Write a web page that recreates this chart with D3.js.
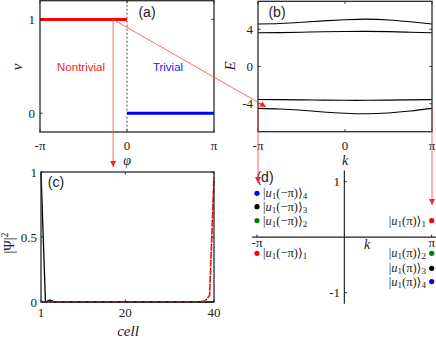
<!DOCTYPE html>
<html><head><meta charset="utf-8">
<script src="https://cdn.jsdelivr.net/npm/d3@7"></script>
<style>body{margin:0;background:#fff}svg{display:block}</style>
</head><body>
<script>
const PI = Math.PI;
// ---------- (a) winding number vs phase ----------
const phaseTicks = [-PI, 0, PI];
const phaseTickLabels = ["-π", "0", "π"];
const windingTicks = [0, 1];
const nontrivialPhase = [-PI, 0];
const nontrivialValue = [1, 1];
const trivialPhase = [0, PI];
const trivialValue = [0, 0];
// ---------- (b) bands ----------
const kSamples = [-PI, -3*PI/4, -PI/2, -PI/4, 0, PI/4, PI/2, 3*PI/4, PI];
const band4 = [4.57, 4.62, 4.75, 4.90, 5.02, 5.09, 5.00, 4.80, 4.57];
const band3 = [3.62, 3.64, 3.68, 3.73, 3.76, 3.77, 3.74, 3.68, 3.62];
const band2 = [-3.55, -3.56, -3.58, -3.61, -3.63, -3.63, -3.61, -3.58, -3.55];
const band1 = [-4.50, -4.56, -4.70, -4.88, -5.02, -5.08, -4.99, -4.78, -4.50];
const energyTicks = [-4, 0, 4];
// ---------- (c) edge state profiles ----------
const cellTicks = [1, 20, 40];
const psiTicks = [0, 0.5, 1];
const cells = [1,2,3,4,5,6,7,8,9,10,11,12,13,14,15,16,17,18,19,20,21,22,23,24,25,26,27,28,29,30,31,32,33,34,35,36,37,38,39,40];
const leftEdgeState = [1.0,0.0,0.015,0.002,0,0,0,0,0,0,0,0,0,0,0,0,0,0,0,0,0,0,0,0,0,0,0,0,0,0,0,0,0,0,0,0,0,0,0,0];
const rightEdgeState = [0,0,0,0,0,0,0,0,0,0,0,0,0,0,0,0,0,0,0,0,0,0,0,0,0,0,0,0,0,0,0,0,0,0,0,0,0.002,0.008,0.05,0.96];
// ---------- (d) states at k = ±π ----------
const stateIndex = ["1", "2", "3", "4"];
const stateColors = ["#ff0000", "#008000", "#000000", "#0000ff"];
const leftStateY = [-0.29, 0.30, 0.55, 0.79];
const rightStateY = [0.30, -0.29, -0.56, -0.80];
const dTicksX = [-PI, PI];
const dTicksXLabels = ["-π", "π"];
const dTicksY = [-1, 1];
const dTicksYLabels = ["-1", "1"];

const W = 436, H = 349;
const svg = d3.select("body").append("svg").attr("width", W).attr("height", H);
const SERIF = "'Liberation Serif','DejaVu Serif',serif";
const SANS = "'Liberation Sans',Arial,sans-serif";
const frameColor = "#2b2b2b";

const defs = svg.append("defs");
defs.append("marker").attr("id","arr").attr("viewBox","0 0 10 10").attr("refX",10).attr("refY",5)
  .attr("markerWidth",6).attr("markerHeight",6).attr("markerUnits","userSpaceOnUse").attr("orient","auto")
  .append("path").attr("d","M0,0 L10,5 L0,10 z").attr("fill","#ff2020");

function text(g, x, y, s, opts={}) {
  const t = g.append("text").attr("x", x).attr("y", y).text(s)
    .attr("font-family", opts.family || SERIF).attr("font-size", opts.size || 13)
    .attr("text-anchor", opts.anchor || "middle").attr("dominant-baseline", "central")
    .attr("fill", opts.fill || "#222");
  if (opts.italic) t.attr("font-style", "italic");
  if (opts.rotate) t.attr("transform", `rotate(-90,${x},${y})`);
  return t;
}

function frame(g, x, y, ticksX, ticksY, xr, yr) {
  const [x0, x1] = xr, [y0, y1] = yr;
  ticksX.forEach(v => {
    const px = x(v);
    g.append("line").attr("x1",px).attr("x2",px).attr("y1",y1).attr("y2",y1-2.5).attr("stroke",frameColor);
    g.append("line").attr("x1",px).attr("x2",px).attr("y1",y0).attr("y2",y0+2.5).attr("stroke",frameColor);
  });
  ticksY.forEach(v => {
    const py = y(v);
    g.append("line").attr("x1",x0).attr("x2",x0+2.5).attr("y1",py).attr("y2",py).attr("stroke",frameColor);
    g.append("line").attr("x1",x1).attr("x2",x1-2.5).attr("y1",py).attr("y2",py).attr("stroke",frameColor);
  });
  g.append("rect").attr("x",x0).attr("y",y0).attr("width",x1-x0).attr("height",y1-y0)
    .attr("fill","none").attr("stroke",frameColor).attr("stroke-width",1.3);
}

// ===== Panel (a) =====
const gA = svg.append("g");
const xA = d3.scaleLinear([-PI, PI], [40, 214]);
const yA = d3.scaleLinear([-0.2, 1.2], [132, 0.7]);
gA.append("line").attr("x1",xA(0)).attr("x2",xA(0)).attr("y1",yA(1.2)).attr("y2",yA(-0.2))
  .attr("stroke","#222").attr("stroke-dasharray","2,2").attr("stroke-width",0.8);
const lineA = d3.line().x(d => xA(d[0])).y(d => yA(d[1]));
gA.append("path").attr("d", lineA(d3.zip(nontrivialPhase, nontrivialValue))).attr("stroke","#ff0000").attr("stroke-width",3).attr("fill","none");
gA.append("path").attr("d", lineA(d3.zip(trivialPhase, trivialValue))).attr("stroke","#0000ff").attr("stroke-width",3).attr("fill","none");
frame(gA, xA, yA, phaseTicks, windingTicks, [40, 214], [0.7, 132]);
phaseTicks.forEach((v,i) => text(gA, xA(v), 145, phaseTickLabels[i], {size:13}));
windingTicks.forEach(v => text(gA, 35, yA(v), String(v), {size:13, anchor:"end"}));
text(gA, 127, 160, "φ", {size:14, italic:true});
text(gA, 17, 67, "ν", {size:15, italic:true, rotate:true});
text(gA, 81, 67, "Nontrivial", {family:SANS, size:11.5, fill:"#ff1a1a"});
text(gA, 168, 67, "Trivial", {family:SANS, size:11.5, fill:"#1a1aff"});
text(gA, 147, 12, "(a)", {family:SANS, size:14});

// ===== Panel (b) =====
const gB = svg.append("g");
const xB = d3.scaleLinear([-PI, PI], [258, 432]);
const yB = d3.scaleLinear([-7, 7], [131.7, 1.3]);
const lineB = d3.line().x((d,i) => xB(kSamples[i])).y(d => yB(d)).curve(d3.curveNatural);
[band1, band2, band3, band4].forEach(b =>
  gB.append("path").attr("d", lineB(b)).attr("fill","none").attr("stroke","#000").attr("stroke-width",1.1));
frame(gB, xB, yB, [-PI, 0, PI], energyTicks, [258, 432], [1.3, 131.7]);
phaseTicks.forEach((v,i) => text(gB, xB(v), 145, phaseTickLabels[i], {size:13}));
energyTicks.forEach(v => text(gB, 253, yB(v), String(v), {size:13, anchor:"end"}));
text(gB, 345, 160, "k", {size:14, italic:true});
text(gB, 230, 66, "E", {size:15, italic:true, rotate:true});
text(gB, 277, 12, "(b)", {family:SANS, size:14});

// ===== Panel (c) =====
const gC = svg.append("g");
const xC = d3.scaleLinear([1, 40], [41, 214]);
const yC = d3.scaleLinear([0, 1], [302, 172]);
const lineC = d3.line().x((d,i) => xC(cells[i])).y(d => yC(d));
gC.append("path").attr("d", lineC(leftEdgeState)).attr("fill","none").attr("stroke","#000").attr("stroke-width",1.3);
gC.append("path").attr("d", lineC(rightEdgeState)).attr("fill","none").attr("stroke","#000").attr("stroke-width",1.2)
  .attr("stroke-dasharray","2,6").attr("stroke-dashoffset",-5);
gC.append("path").attr("d", lineC(rightEdgeState)).attr("fill","none").attr("stroke","#ff1a1a").attr("stroke-width",1.8)
  .attr("stroke-dasharray","5,3");
frame(gC, xC, yC, cellTicks, psiTicks, [41, 214], [172, 302]);
cellTicks.forEach(v => text(gC, xC(v), 312, String(v), {size:13}));
psiTicks.forEach(v => text(gC, 37, yC(v), String(v), {size:13, anchor:"end"}));
text(gC, 128, 331, "cell", {size:15, italic:true});
const psiLab = gC.append("text").attr("transform","translate(9,243) rotate(-90)")
  .attr("font-family",SERIF).attr("font-size",14).attr("text-anchor","middle").attr("dominant-baseline","central").attr("fill","#222");
psiLab.append("tspan").text("|Ψ|");
psiLab.append("tspan").text("2").attr("font-size",10).attr("dy",-5);
text(gC, 56, 182, "(c)", {family:SANS, size:14});

// ===== Panel (d) =====
const gD = svg.append("g");
const xD = d3.scaleLinear([-PI, PI], [257, 431.7]);
const yD = d3.scaleLinear([-1, 1], [292.7, 181.7]);
gD.append("line").attr("x1",xD(-3.32)).attr("x2",xD(3.32)).attr("y1",yD(0)).attr("y2",yD(0)).attr("stroke","#222").attr("stroke-width",1.2);
gD.append("line").attr("x1",xD(0)).attr("x2",xD(0)).attr("y1",yD(1.2)).attr("y2",yD(-1.2)).attr("stroke","#222").attr("stroke-width",1.2);
dTicksX.forEach((v,i) => {
  gD.append("line").attr("x1",xD(v)).attr("x2",xD(v)).attr("y1",yD(0)).attr("y2",yD(0)-2.5).attr("stroke","#222");
  text(gD, xD(v), 242, dTicksXLabels[i], {size:13});
});
dTicksY.forEach((v,i) => {
  gD.append("line").attr("x1",xD(0)).attr("x2",xD(0)+2.5).attr("y1",yD(v)).attr("y2",yD(v)).attr("stroke","#222");
  text(gD, 340, yD(v), dTicksYLabels[i], {size:13, anchor:"end"});
});
text(gD, 367, 244, "k", {size:14, italic:true});
text(gD, 265, 177, "(d)", {family:SANS, size:14});

function ket(g, x, y, arg, idx, anchor) {
  const t = g.append("text").attr("x", x).attr("y", y).attr("font-family", SERIF).attr("font-size", 12.5)
    .attr("text-anchor", anchor).attr("dominant-baseline","central").attr("fill","#222");
  t.append("tspan").text("|");
  t.append("tspan").text("u").attr("font-style","italic");
  t.append("tspan").text("1").attr("font-size",9).attr("dy",3);
  t.append("tspan").text("(" + arg + ")⟩").attr("dy",-3);
  t.append("tspan").text(idx).attr("font-size",9).attr("dy",3);
}
leftStateY.forEach((v,i) => {
  gD.append("circle").attr("cx",xD(-PI)).attr("cy",yD(v)).attr("r",2.6).attr("fill",stateColors[i]);
  ket(gD, 263, yD(v), "−π", stateIndex[i], "start");
});
rightStateY.forEach((v,i) => {
  gD.append("circle").attr("cx",xD(PI)).attr("cy",yD(v)).attr("r",2.6).attr("fill",stateColors[i]);
  ket(gD, 426, yD(v), "π", stateIndex[i], "end");
});

// ===== connecting arrows =====
const arrows = svg.append("g").attr("stroke","#ff4040").attr("stroke-width",0.8).attr("fill","none");
const ax = xA(-0.5), ay = yA(1);
arrows.append("line").attr("x1",ax).attr("y1",ay).attr("x2",ax).attr("y2",167).attr("marker-end","url(#arr)");
arrows.append("line").attr("x1",ax).attr("y1",ay).attr("x2",xB(-PI)+8).attr("y2",yB(band1[0])-1.5).attr("marker-end","url(#arr)");
arrows.append("line").attr("x1",xB(-PI)).attr("y1",yB(band1[0])).attr("x2",xB(-PI)).attr("y2",183).attr("marker-end","url(#arr)");
arrows.append("line").attr("x1",xB(PI)).attr("y1",yB(band1[8])).attr("x2",xB(PI)).attr("y2",205).attr("marker-end","url(#arr)");
</script>
</body></html>
